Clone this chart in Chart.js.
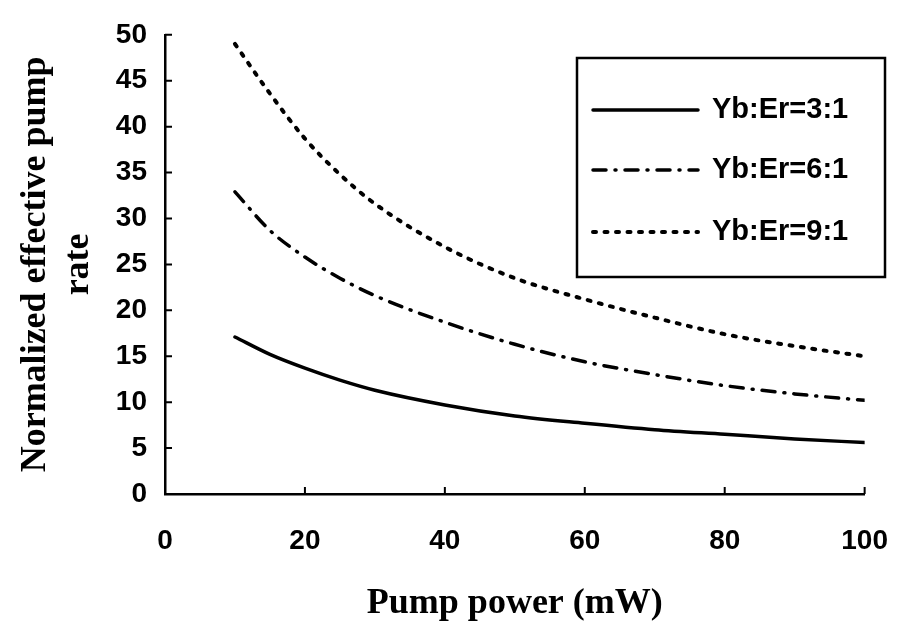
<!DOCTYPE html>
<html>
<head>
<meta charset="utf-8">
<script src="https://cdn.jsdelivr.net/npm/chart.js@4.4.0/dist/chart.umd.min.js"></script>
<style>
  html, body { margin: 0; padding: 0; background: #fff; }
  #wrap { width: 918px; height: 631px; }
</style>
</head>
<body>
<div id="wrap"><canvas id="chart"></canvas></div>
<script>
// Pump power (mW) where the curves were read
const pumpPower = [10, 15, 20, 25, 30, 40, 50, 60, 70, 80, 90, 100];
// Normalized effective pump rate, one array per Yb:Er ratio
const rate31 = [17.1, 15.2, 13.7, 12.4, 11.3, 9.7, 8.5, 7.7, 7.0, 6.5, 6.0, 5.6];
const rate61 = [32.9, 28.7, 25.8, 23.5, 21.6, 18.7, 16.3, 14.4, 13.0, 11.8, 10.9, 10.2];
const rate91 = [49.0, 43.6, 38.7, 34.8, 31.6, 26.9, 23.5, 21.2, 19.2, 17.4, 16.1, 15.0];
const seriesLabels = ['Yb:Er=3:1', 'Yb:Er=6:1', 'Yb:Er=9:1'];

const tickFont = { family: "'Liberation Sans', Arial, sans-serif", size: 28, weight: 'bold' };
const titleFont = { family: "'Liberation Serif', 'Times New Roman', serif", size: 36, weight: 'bold', lineHeight: 1.2 };

function toPoints(values) {
    return pumpPower.map((p, i) => ({ x: p, y: values[i] }));
}

// Small inward tick marks on both axes (the original has them inside the plot)
const inwardTicks = {
    id: 'inwardTicks',
    afterDatasetsDraw(chart) {
        const { ctx, chartArea, scales: { x, y } } = chart;
        ctx.save();
        ctx.strokeStyle = '#000';
        ctx.lineWidth = 2;
        ctx.beginPath();
        y.ticks.forEach(t => {
            const py = y.getPixelForValue(t.value);
            ctx.moveTo(chartArea.left, py);
            ctx.lineTo(chartArea.left + 7, py);
        });
        x.ticks.forEach(t => {
            const px = x.getPixelForValue(t.value);
            ctx.moveTo(px, chartArea.bottom);
            ctx.lineTo(px, chartArea.bottom - 7);
        });
        ctx.stroke();
        ctx.restore();
    }
};

// Boxed legend in the upper right, line samples taken from the datasets
const boxLegend = {
    id: 'boxLegend',
    afterDraw(chart) {
        const ctx = chart.ctx;
        const box = { left: 577, top: 58, right: 885, bottom: 277 };
        const rows = [110, 170, 232];
        ctx.save();
        ctx.strokeStyle = '#000';
        ctx.lineWidth = 2.5;
        ctx.setLineDash([]);
        ctx.strokeRect(box.left, box.top, box.right - box.left, box.bottom - box.top);

        ctx.font = "bold 29px 'Liberation Sans', Arial, sans-serif";
        ctx.fillStyle = '#000';
        ctx.textBaseline = 'middle';
        chart.data.datasets.forEach((ds, i) => {
            ctx.lineWidth = ds.borderWidth;
            ctx.lineCap = ds.borderCapStyle || 'butt';
            ctx.setLineDash(ds.borderDash || []);
            ctx.beginPath();
            ctx.moveTo(box.left + 16, rows[i]);
            ctx.lineTo(box.left + 121, rows[i]);
            ctx.stroke();
            ctx.setLineDash([]);
            ctx.fillText(ds.label, box.left + 135, rows[i]);
        });
        ctx.restore();
    }
};

new Chart(document.getElementById('chart'), {
    type: 'line',
    data: {
        datasets: [
            {
                label: seriesLabels[0],
                data: toPoints(rate31),
                borderColor: '#000',
                borderWidth: 3.5,
                borderCapStyle: 'round',
                pointRadius: 0,
                fill: false,
                cubicInterpolationMode: 'monotone'
            },
            {
                label: seriesLabels[1],
                data: toPoints(rate61),
                borderColor: '#000',
                borderWidth: 3.5,
                borderDash: [13, 9, 1, 9],
                borderCapStyle: 'round',
                pointRadius: 0,
                fill: false,
                cubicInterpolationMode: 'monotone'
            },
            {
                label: seriesLabels[2],
                data: toPoints(rate91),
                borderColor: '#000',
                borderWidth: 4,
                borderDash: [3, 8.5],
                borderCapStyle: 'round',
                pointRadius: 0,
                fill: false,
                cubicInterpolationMode: 'monotone'
            }
        ]
    },
    options: {
        responsive: true,
        maintainAspectRatio: false,
        animation: false,
        layout: { padding: { top: 26, right: 30, bottom: 0, left: 0 } },
        plugins: {
            legend: { display: false },
            tooltip: { enabled: false }
        },
        scales: {
            x: {
                type: 'linear',
                min: 0,
                max: 100,
                grid: { display: false, drawTicks: false },
                border: { display: true, color: '#000', width: 2.5 },
                ticks: { stepSize: 20, color: '#000', font: tickFont, padding: 30 },
                title: {
                    display: true,
                    text: 'Pump power (mW)',
                    color: '#000',
                    font: titleFont,
                    padding: { top: 0, bottom: 6 }
                },
                afterFit(scale) { scale.height = 137; }
            },
            y: {
                min: 0,
                max: 50,
                grid: { display: false, drawTicks: false },
                border: { display: true, color: '#000', width: 2.5 },
                ticks: { stepSize: 5, color: '#000', font: tickFont, padding: 18 },
                title: {
                    display: true,
                    text: ['Normalized effective pump', 'rate'],
                    color: '#000',
                    font: titleFont,
                    padding: { top: 14, bottom: 0 }
                },
                afterFit(scale) { scale.width = 165; }
            }
        }
    },
    plugins: [inwardTicks, boxLegend]
});
</script>
</body>
</html>
